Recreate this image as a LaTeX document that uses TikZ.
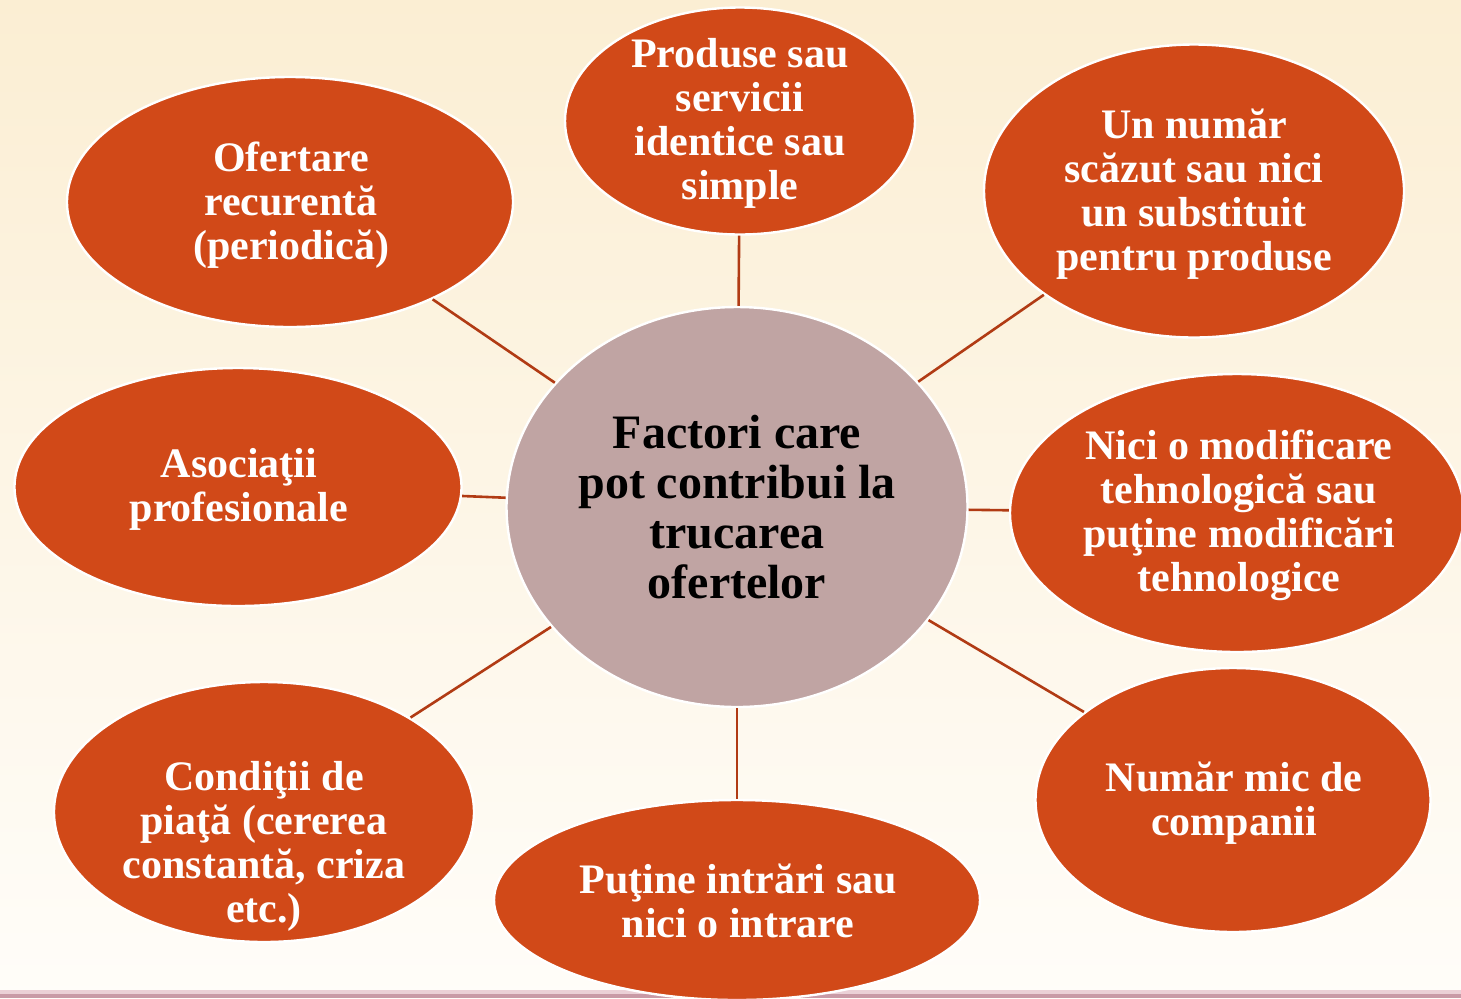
\documentclass[tikz,border=0pt]{standalone}
\usepackage{fontspec}
\setmainfont{Liberation Serif}
\usetikzlibrary{shapes.geometric}
\definecolor{orng}{HTML}{D14918}
\definecolor{mauve}{HTML}{C0A4A3}
\definecolor{lnk}{HTML}{B13B14}
\definecolor{bgtop}{HTML}{FBEED3}
\definecolor{bgbot}{HTML}{FFFDF9}
\definecolor{strip}{HTML}{C99AA6}
\definecolor{stripl}{HTML}{EBD0D6}
\begin{document}
\begin{tikzpicture}[x=0.5pt,y=-0.5pt,
  oval/.style={ellipse, fill=orng, draw=white, line width=1.2pt, inner sep=0pt},
  hub/.style={ellipse, fill=mauve, draw=white, line width=1.2pt, inner sep=0pt},
  otxt/.style={align=center, text=white, font=\fontsize{21}{22}\selectfont\bfseries, inner sep=0pt},
  htxt/.style={align=center, text=black, font=\fontsize{24}{25}\selectfont\bfseries, inner sep=0pt},
  link/.style={draw=lnk, line width=1.3pt}]
\useasboundingbox (0,0) rectangle (1461,998);
\fill[top color=bgtop, bottom color=bgbot] (0,0) rectangle (1461,998);
\fill[stripl] (0,990) rectangle (1461,994);
\fill[strip] (0,994) rectangle (1461,998);

\node[hub, minimum width=230.5pt, minimum height=200pt] (hub) at (737,507) {};
\node[oval, minimum width=175pt, minimum height=113.5pt] (n1) at (740,121) {};
\node[oval, minimum width=210pt, minimum height=146.5pt] (n2) at (1194,191) {};
\node[oval, minimum width=227pt, minimum height=139pt] (n3) at (1237,513) {};
\node[oval, minimum width=197.5pt, minimum height=132pt] (n4) at (1233,800) {};
\node[oval, minimum width=243pt, minimum height=100pt] (n5) at (737,900) {};
\node[oval, minimum width=210pt, minimum height=130pt] (n6) at (264,812) {};
\node[oval, minimum width=223.5pt, minimum height=119pt] (n7) at (238,487) {};
\node[oval, minimum width=223pt, minimum height=125pt] (n8) at (290,202) {};

\foreach \n in {n1,n2,n3,n4,n5,n6,n7,n8} \draw[link] (hub) -- (\n);

\node[htxt] (th) at (737,507) {Factori care\\pot contribui la\\trucarea\\ofertelor};
\node[otxt] (t1) at (740,123) {Produse sau\\servicii\\identice sau\\simple};
\node[otxt] (t2) at (1194,194) {Un număr\\scăzut sau nici\\un substituit\\pentru produse};
\node[otxt] (t3) at (1239,515) {Nici o modificare\\tehnologică sau\\puţine modificări\\tehnologice};
\node[otxt] (t4) at (1234,803) {Număr mic de\\companii};
\node[otxt] (t5) at (738,901) {Puţine intrări sau\\nici o intrare};
\node[otxt] (t6) at (264,846) {Condiţii de\\piaţă (cererea\\constantă, criza\\etc.)};
\node[otxt] (t7) at (239,489) {Asociaţii\\profesionale};
\node[otxt] (t8) at (291,205) {Ofertare\\recurentă\\(periodică)};
\end{tikzpicture}
\end{document}
